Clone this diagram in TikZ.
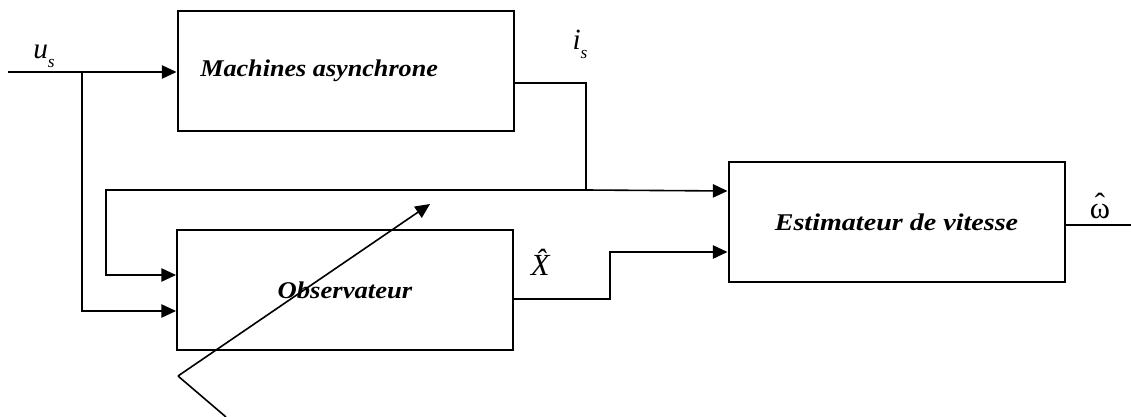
\documentclass[tikz,border=0pt]{standalone}
\usepackage{fontspec}
\setmainfont{Liberation Serif}
\usepackage{tikz}
\usetikzlibrary{arrows.meta, positioning, calc}

\newcommand{\indice}[2]{\textit{#1}\raisebox{-0.3em}{\fontsize{13}{13}\selectfont\textit{#2}}}
\newcommand{\chapeau}[1]{\ooalign{#1\cr\hidewidth\raisebox{0.12em}{ˆ}\hidewidth\cr}}

\begin{document}
\begin{tikzpicture}[x=0.75pt,y=-0.75pt,
    every node/.style={font=\fontsize{20}{22}\selectfont,inner sep=1pt},
    bloc/.style={draw,line width=1.5pt,minimum width=252pt,minimum height=90pt,
                 inner sep=0pt,font=\fontsize{18}{20}\selectfont\bfseries\itshape},
    fleche/.style={-{Triangle[length=11pt,width=10pt]},line width=1.2pt},
    fil/.style={line width=1.2pt}]
  \useasboundingbox (0,0) rectangle (1131,417);
  % blocs
  \node[bloc] (mas) at (345.5,71) {\hspace*{-2.2em}\scalebox{1.09}[1]{Machines asynchrone}};
  \node[bloc] (obs) at (345,290) {\scalebox{1.11}[1]{Observateur}};
  \node[bloc] (est) at (896.5,222) {\scalebox{1.17}[1]{Estimateur de vitesse}};
  % noeuds de passage
  \coordinate (us0) at (8,72);
  \coordinate (br) at (82,72);
  \coordinate (is1) at (586,83);
  \coordinate (is2) at (586,190);
  \coordinate (fb) at (106,190);
  \coordinate (xh) at (610,299);
  \coordinate (om) at (1131,225);
  % entree u_s
  \draw[fleche] (us0) -- (mas.west |- us0);
  \draw[fleche] (br) -- (br |- 0,311) -- (obs.west |- 0,311);
  % sortie i_s vers estimateur et retour
  \draw[fil] (mas.east |- is1) -- (is1) -- (is2);
  \draw[fleche] (is2) -- (est.west |- 0,191);
  \draw[fleche] (is2) -- (fb) -- (fb |- 0,275) -- (obs.west |- 0,275);
  % sortie observateur
  \draw[fleche] (obs.east |- xh) -- (xh) -- (xh |- 0,252) -- (est.west |- 0,252);
  \draw[fil] (est.east |- om) -- (om);
  % fleche oblique
  \coordinate (k) at (178,376);
  \draw[fil] (226,417) -- (k);
  \draw[fleche] (k) -- (430,204);
  % etiquettes
  \node (lus) at (44,56) {\fontsize{22}{24}\selectfont\indice{u}{s}};
  \node (lis) at (580,44) {\fontsize{22}{24}\selectfont\indice{i}{s}};
  \node (lxh) at (546,262) {\fontsize{23}{24}\selectfont\textit{\^{X}}};
  \node (lom) at (1100,211) {\fontsize{23}{26}\selectfont\chapeau{ω}};
\end{tikzpicture}
\end{document}
